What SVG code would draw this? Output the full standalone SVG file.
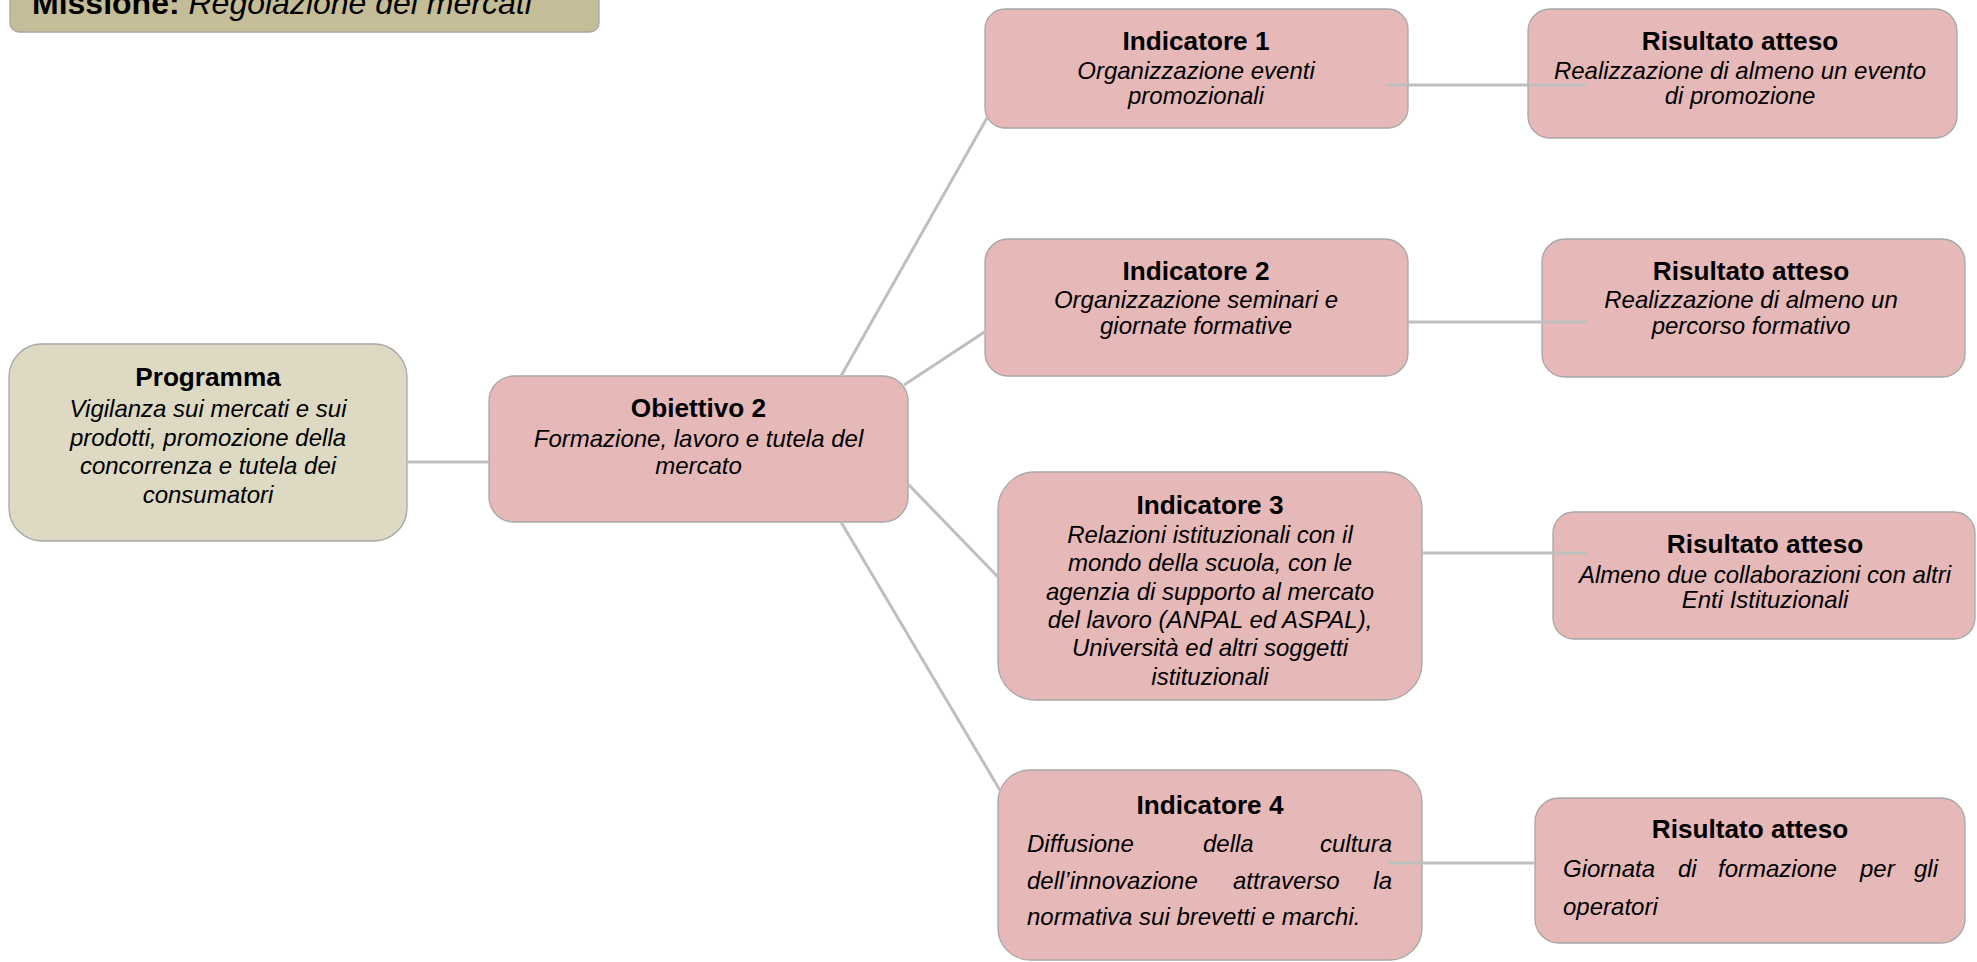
<svg xmlns="http://www.w3.org/2000/svg" width="1977" height="962" viewBox="0 0 1977 962">
<style>
.box{stroke:#A6A6A6;stroke-width:1.3}
.pink{fill:#E6B9B8}
.tan{fill:#DDD9C3}
.miss{fill:#C4BD97}
.t{font-family:"Liberation Sans",Arial,sans-serif;font-weight:bold;font-size:26.2px;fill:#000;text-anchor:middle}
.i{font-family:"Liberation Sans",Arial,sans-serif;font-style:italic;font-size:24px;fill:#000;text-anchor:middle}
.l{text-anchor:start}
.e{text-anchor:end}
.conn{stroke:#BFBFBF;stroke-width:3;fill:none}
</style>
<rect width="1977" height="962" fill="#FFFFFF"/>
<g id="missione">
<rect class="box miss" x="10" y="-40" width="589" height="72" rx="9"/>
<text x="32" y="14" style="font-family:'Liberation Sans',Arial,sans-serif;font-size:32px;fill:#000"><tspan font-weight="bold">Missione:</tspan><tspan font-style="italic"> Regolazione dei mercati</tspan></text>
</g>
<g id="programma">
<rect class="box tan" x="9" y="344" width="398" height="197" rx="33"/>
<text class="t" x="208" y="386">Programma</text>
<text class="i" x="208" y="417">Vigilanza sui mercati e sui</text>
<text class="i" x="208" y="445.5">prodotti, promozione della</text>
<text class="i" x="208" y="474">concorrenza e tutela dei</text>
<text class="i" x="208" y="502.5">consumatori</text>
</g>
<g id="obiettivo2">
<rect class="box pink" x="489" y="376" width="419" height="146" rx="25"/>
<text class="t" x="698.5" y="417">Obiettivo 2</text>
<text class="i" x="698.5" y="447">Formazione, lavoro e tutela del</text>
<text class="i" x="698.5" y="474">mercato</text>
</g>
<g id="indicatore1">
<rect class="box pink" x="985" y="9" width="423" height="119" rx="20"/>
<text class="t" x="1196" y="50">Indicatore 1</text>
<text class="i" x="1196" y="78.5">Organizzazione eventi</text>
<text class="i" x="1196" y="104">promozionali</text>
</g>
<g id="risultato1">
<rect class="box pink" x="1528" y="9" width="429" height="129" rx="22"/>
<text class="t" x="1740" y="50">Risultato atteso</text>
<text class="i" x="1740" y="78.5">Realizzazione di almeno un evento</text>
<text class="i" x="1740" y="104">di promozione</text>
</g>
<g id="indicatore2">
<rect class="box pink" x="985" y="239" width="423" height="137" rx="23"/>
<text class="t" x="1196" y="280">Indicatore 2</text>
<text class="i" x="1196" y="308">Organizzazione seminari e</text>
<text class="i" x="1196" y="334">giornate formative</text>
</g>
<g id="risultato2">
<rect class="box pink" x="1542" y="239" width="423" height="138" rx="23"/>
<text class="t" x="1751" y="280">Risultato atteso</text>
<text class="i" x="1751" y="308">Realizzazione di almeno un</text>
<text class="i" x="1751" y="334">percorso formativo</text>
</g>
<g id="indicatore3">
<rect class="box pink" x="998" y="472" width="424" height="228" rx="37"/>
<text class="t" x="1210" y="514">Indicatore 3</text>
<text class="i" x="1210" y="543">Relazioni istituzionali con il</text>
<text class="i" x="1210" y="571.3">mondo della scuola, con le</text>
<text class="i" x="1210" y="599.6">agenzia di supporto al mercato</text>
<text class="i" x="1210" y="628">del lavoro (ANPAL ed ASPAL),</text>
<text class="i" x="1210" y="656.3">Università ed altri soggetti</text>
<text class="i" x="1210" y="684.6">istituzionali</text>
</g>
<g id="risultato3">
<rect class="box pink" x="1553" y="512" width="422" height="127" rx="21"/>
<text class="t" x="1765" y="553">Risultato atteso</text>
<text class="i" x="1765" y="583">Almeno due collaborazioni con altri</text>
<text class="i" x="1765" y="608">Enti Istituzionali</text>
</g>
<g id="indicatore4">
<rect class="box pink" x="998" y="770" width="424" height="190" rx="32"/>
<text class="t" x="1210" y="814">Indicatore 4</text>
<text class="i l" y="852"><tspan x="1027">Diffusione</tspan><tspan x="1203">della</tspan><tspan x="1392" class="e">cultura</tspan></text>
<text class="i l" y="888.5"><tspan x="1027">dell’innovazione</tspan><tspan x="1233">attraverso</tspan><tspan x="1392" class="e">la</tspan></text>
<text class="i l" x="1027" y="925">normativa sui brevetti e marchi.</text>
</g>
<g id="risultato4">
<rect class="box pink" x="1535" y="798" width="430" height="145" rx="24"/>
<text class="t" x="1750" y="838">Risultato atteso</text>
<text class="i l" y="877"><tspan x="1563">Giornata</tspan><tspan x="1678">di</tspan><tspan x="1718">formazione</tspan><tspan x="1860">per</tspan><tspan x="1938" class="e">gli</tspan></text>
<text class="i l" x="1563" y="915">operatori</text>
</g>
<g id="connectors">
<line class="conn" x1="407" y1="462" x2="489" y2="462"/>
<line class="conn" x1="841" y1="376" x2="987" y2="118"/>
<line class="conn" x1="904" y1="385" x2="986" y2="331"/>
<line class="conn" x1="908" y1="484" x2="998" y2="577"/>
<line class="conn" x1="841" y1="522" x2="1001" y2="792"/>
<line class="conn" x1="1387" y1="85" x2="1587" y2="85"/>
<line class="conn" x1="1408" y1="322" x2="1587" y2="322"/>
<line class="conn" x1="1422" y1="553" x2="1588" y2="553"/>
<line class="conn" x1="1388" y1="863" x2="1535" y2="863"/>
</g>
</svg>
